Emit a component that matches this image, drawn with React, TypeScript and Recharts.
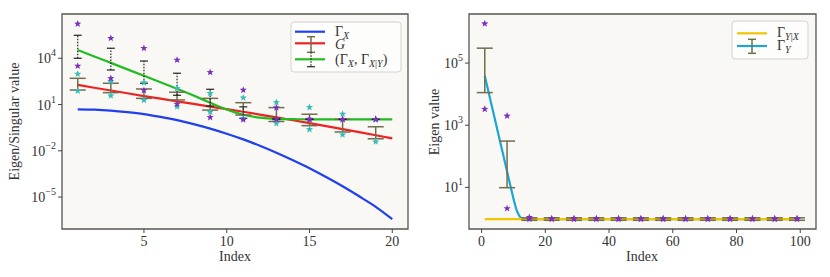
import React from 'react';
import { ComposedChart, Line, Scatter, XAxis, YAxis, ErrorBar, CartesianGrid, ReferenceArea } from 'recharts';

const FONT = "'Liberation Serif', 'Times New Roman', serif";
const INK = '#333';
const BG = '#f9f8f4';
const FRAME = '#555';

// values read as log10 exponents off the log axes

// left panel
const idxLeft = [1, 2, 3, 4, 5, 6, 7, 8, 9, 10, 11, 12, 13, 14, 15, 16, 17, 18, 19, 20];
const gammaXExp = [0.69, 0.67, 0.61, 0.51, 0.38, 0.2, -0.01, -0.27, -0.56, -0.89, -1.26, -1.67, -2.12, -2.61, -3.13, -3.7, -4.3, -4.95, -5.63, -6.43];
const gExp = [2.27, 2.09, 1.91, 1.73, 1.55, 1.38, 1.21, 1.04, 0.87, 0.7, 0.53, 0.35, 0.17, -0.02, -0.21, -0.4, -0.59, -0.79, -0.99, -1.19];
const pairExp = [4.54, 4.12, 3.7, 3.28, 2.86, 2.44, 2.02, 1.58, 1.12, 0.68, 0.34, 0.15, 0.07, 0.05, 0.04, 0.04, 0.04, 0.04, 0.04, 0.04];

const oddIdx = [1, 3, 5, 7, 9, 11, 13, 15, 17, 19];
const gLoExp = [1.94, 1.77, 1.4, 1.3, 0.64, 0.32, -0.1, -0.37, -0.78, -1.22];
const gHiExp = [2.7, 2.38, 2.01, 1.8, 1.4, 1.12, 0.8, 0.37, 0.04, -0.44];
const pairLoExp = [4.0, 3.24, 2.38, 1.6, 0.9, 0.1, 0.02, 0.03, 0.03, 0.03];
const pairHiExp = [5.49, 4.65, 3.82, 3.03, 1.99, 0.85, 0.1, 0.06, 0.05, 0.05];
const purpleHiL = [6.23, 5.3, 4.65, 3.89, 3.09, 1.94, 0.8, 0.06, 0.05, 0.05];
const purpleLoL = [3.5, 2.7, 1.92, 1.03, 0.17, 0.02, 0.04, 0.04, 0.04, 0.04];
const tealHiL = [2.98, 2.5, 2.42, 2.05, 1.73, 1.44, 1.14, 0.82, 0.39, 0.04];
const tealLoL = [1.88, 1.57, 1.29, 0.86, 0.52, 0.1, -0.22, -0.61, -0.96, -1.41];

const leftXTicks = [5, 10, 15, 20];
const leftYTicks = [1e-5, 1e-2, 1e1, 1e4];

// right panel
const yxIdx = [1, 100];
const yxExp = [-0.02, -0.02];
const gammaYIdx = [1, 2, 3, 4, 5, 6, 7, 8, 9, 10, 11, 12, 13, 14, 100];
const gammaYExp = [4.59, 4.15, 3.71, 3.27, 2.83, 2.39, 1.95, 1.51, 1.07, 0.64, 0.27, 0.06, -0.01, -0.02, -0.02];

const sampleIdx = [1, 8, 15, 22, 29, 36, 43, 50, 57, 64, 71, 78, 85, 92, 99];
const yLoExp = [4.05, 0.99, -0.06, -0.06, -0.06, -0.06, -0.06, -0.06, -0.06, -0.06, -0.06, -0.06, -0.06, -0.06, -0.06];
const yHiExp = [5.48, 2.49, 0.02, 0.02, 0.02, 0.02, 0.02, 0.02, 0.02, 0.02, 0.02, 0.02, 0.02, 0.02, 0.02];
const purpleHiR = [6.27, 3.3, 0.04, 0.0, 0.0, 0.0, 0.0, 0.0, 0.0, 0.0, 0.0, 0.0, 0.0, 0.0, 0.0];
const purpleLoR = [3.52, 0.32, -0.02, -0.02, -0.02, -0.02, -0.02, -0.02, -0.02, -0.02, -0.02, -0.02, -0.02, -0.02, -0.02];

const rightXTicks = [0, 20, 40, 60, 80, 100];
const rightYTicks = [1e1, 1e3, 1e5];

const pts = (xs: number[], e: number[]) => xs.map((x, i) => ({ x, y: 10 ** e[i] }));
const bars = (xs: number[], lo: number[], hi: number[]) =>
  xs.map((x, i) => ({ x, y: 10 ** lo[i], err: [0, 10 ** hi[i] - 10 ** lo[i]] }));
const caps = (xs: number[], lo: number[], hi: number[]) => [...pts(xs, lo), ...pts(xs, hi)];

const Star = (props: any) => {
  const { cx, cy, fill } = props;
  if (cx == null || cy == null) return <g />;
  const p: string[] = [];
  for (let k = 0; k < 10; k++) {
    const r = k % 2 === 0 ? 3.8 : 1.6;
    const a = -Math.PI / 2 + (k * Math.PI) / 5;
    p.push(`${cx + r * Math.cos(a)},${cy + r * Math.sin(a)}`);
  }
  return <polygon points={p.join(' ')} fill={fill} />;
};

const Cap = (props: any) => {
  const { cx, cy } = props;
  if (cx == null || cy == null) return <g />;
  return <line x1={cx - 4} x2={cx + 4} y1={cy} y2={cy} stroke="#222" strokeWidth={1.2} />;
};

const Nothing = () => <g />;

const LogTick = (props: any) => {
  const { x, y, payload } = props;
  const e = Math.round(Math.log10(payload.value));
  const s = e < 0 ? '\u2212' + Math.abs(e) : String(e);
  return (
    <text x={x} y={y} dy={5} textAnchor="end" fill={INK} fontFamily={FONT} fontSize={14}>
      10<tspan dy={-7} fontSize={10}>{s}</tspan>
    </text>
  );
};

const xLabel = (cx: number) => () => (
  <text x={cx} y={261} textAnchor="middle" fill={INK} fontFamily={FONT} fontSize={14}>Index</text>
);
const yLabel = (text: string, cy: number) => () => (
  <text x={19} y={cy} transform={`rotate(-90, 19, ${cy})`} textAnchor="middle" fill={INK} fontFamily={FONT} fontSize={14}>{text}</text>
);

function LeftLegend() {
  return (
    <svg width={112} height={52} style={{ position: 'absolute', left: 290, top: 21 }}>
      <rect x={1} y={1} width={110} height={50} rx={3} fill="#fdfdfc" stroke="#d2d2d2" />
      <line x1={5} x2={35} y1={10.7} y2={10.7} stroke="#1f3ff0" strokeWidth={2.2} />
      <line x1={5} x2={35} y1={22.3} y2={22.3} stroke="#ee2222" strokeWidth={2.2} />
      <line x1={5} x2={35} y1={38.3} y2={38.3} stroke="#22bb22" strokeWidth={2.2} />
      <line x1={21} x2={21} y1={15.7} y2={31.3} stroke="#6f6f4f" strokeWidth={1.5} />
      <line x1={17} x2={25} y1={15.7} y2={15.7} stroke="#6f6f4f" strokeWidth={1.5} />
      <line x1={17} x2={25} y1={31.3} y2={31.3} stroke="#6f6f4f" strokeWidth={1.5} />
      <line x1={21} x2={21} y1={31.3} y2={45.7} stroke="#222" strokeWidth={1.2} strokeDasharray="1.5 1.5" />
      <line x1={17} x2={25} y1={45.7} y2={45.7} stroke="#222" strokeWidth={1.2} />
      <g fill={INK} fontFamily={FONT} fontSize={14}>
        <text x={45} y={15}>
          Γ<tspan dy={3} fontSize={10} fontStyle="italic">X</tspan>
        </text>
        <text x={45} y={28} fontStyle="italic">G</text>
        <text x={45} y={43}>
          (Γ<tspan dy={3} fontSize={10} fontStyle="italic">X</tspan>
          <tspan dy={-3}>, Γ</tspan>
          <tspan dy={3} fontSize={10} fontStyle="italic">X</tspan>
          <tspan fontSize={10}>|</tspan>
          <tspan fontSize={10} fontStyle="italic">Y</tspan>
          <tspan dy={-3}>)</tspan>
        </text>
      </g>
    </svg>
  );
}

function RightLegend() {
  return (
    <svg width={78} height={40} style={{ position: 'absolute', left: 311, top: 20 }}>
      <rect x={1} y={1} width={76} height={38} rx={3} fill="#fdfdfc" stroke="#d2d2d2" />
      <line x1={6} x2={36} y1={13.3} y2={13.3} stroke="#f2c400" strokeWidth={2.2} />
      <line x1={6} x2={36} y1={26} y2={26} stroke="#1aa6d6" strokeWidth={2.2} />
      <line x1={21} x2={21} y1={19.3} y2={33.3} stroke="#6f6f4f" strokeWidth={1.5} />
      <line x1={17} x2={25} y1={19.3} y2={19.3} stroke="#6f6f4f" strokeWidth={1.5} />
      <line x1={17} x2={25} y1={33.3} y2={33.3} stroke="#6f6f4f" strokeWidth={1.5} />
      <g fill={INK} fontFamily={FONT} fontSize={14}>
        <text x={46} y={17}>
          Γ<tspan dy={3} fontSize={10} fontStyle="italic">Y</tspan>
          <tspan fontSize={10}>|</tspan>
          <tspan fontSize={10} fontStyle="italic">X</tspan>
        </text>
        <text x={46} y={30}>
          Γ<tspan dy={3} fontSize={10} fontStyle="italic">Y</tspan>
        </text>
      </g>
    </svg>
  );
}

const leftDomainY: [number, number] = [10 ** -7.07, 10 ** 6.87];
const leftDomainX: [number, number] = [0.05, 20.95];
const rightDomainY: [number, number] = [10 ** -0.34, 10 ** 6.58];
const rightDomainX: [number, number] = [-3.95, 104.95];

export default function App() {
  return (
    <div style={{ position: 'absolute', left: 0, top: 0, width: 830, height: 277, background: '#fff' }}>
      <div style={{ position: 'absolute', left: 0, top: 0 }}>
        <ComposedChart width={420} height={277} margin={{ top: 14, right: 12, bottom: 0, left: 0 }}>
          <CartesianGrid horizontal={false} vertical={false} fill={BG} />
          <XAxis type="number" dataKey="x" domain={leftDomainX} ticks={leftXTicks} allowDataOverflow
            axisLine={false} tickSize={4} tickMargin={3} height={48} tickLine={{ stroke: '#444' }}
            tick={{ fill: INK, fontFamily: FONT, fontSize: 14 }} label={xLabel(235)} />
          <YAxis type="number" dataKey="y" scale="log" domain={leftDomainY} ticks={leftYTicks} allowDataOverflow
            axisLine={false} tickSize={4} tickMargin={2} width={62} tickLine={{ stroke: '#444' }}
            tick={<LogTick />} label={yLabel('Eigen/Singular value', 121.5)} />
          <Line data={pts(idxLeft, gammaXExp)} dataKey="y" type="monotone" stroke="#1f3ff0" strokeWidth={2.2} dot={false} isAnimationActive={false} />
          <Line data={pts(idxLeft, gExp)} dataKey="y" type="linear" stroke="#ee2222" strokeWidth={2.2} dot={false} isAnimationActive={false} />
          <Line data={pts(idxLeft, pairExp)} dataKey="y" type="monotone" stroke="#22bb22" strokeWidth={2.2} dot={false} isAnimationActive={false} />
          <Scatter data={bars(oddIdx, gLoExp, gHiExp)} dataKey="y" shape={Nothing} isAnimationActive={false}>
            <ErrorBar dataKey="err" direction="y" width={8} stroke="#6f6f4f" strokeWidth={1.5} />
          </Scatter>
          <Scatter data={bars(oddIdx, pairLoExp, pairHiExp)} dataKey="y" shape={Nothing} isAnimationActive={false}>
            <ErrorBar dataKey="err" direction="y" width={0} stroke="#222" strokeWidth={1.2} strokeDasharray="1.5 1.5" />
          </Scatter>
          <Scatter data={caps(oddIdx, pairLoExp, pairHiExp)} dataKey="y" shape={Cap} isAnimationActive={false} />
          <Scatter data={pts(oddIdx, tealHiL)} dataKey="y" fill="#35bdb5" shape={Star} isAnimationActive={false} />
          <Scatter data={pts(oddIdx, tealLoL)} dataKey="y" fill="#35bdb5" shape={Star} isAnimationActive={false} />
          <Scatter data={pts(oddIdx, purpleHiL)} dataKey="y" fill="#7d2fc0" shape={Star} isAnimationActive={false} />
          <Scatter data={pts(oddIdx, purpleLoL)} dataKey="y" fill="#7d2fc0" shape={Star} isAnimationActive={false} />
          <ReferenceArea x1={leftDomainX[0]} x2={leftDomainX[1]} y1={leftDomainY[0]} y2={leftDomainY[1]}
            ifOverflow="visible" fill="none" fillOpacity={0} stroke={FRAME} strokeWidth={1.3} />
        </ComposedChart>
        <LeftLegend />
      </div>
      <div style={{ position: 'absolute', left: 420, top: 0 }}>
        <ComposedChart width={410} height={277} margin={{ top: 14, right: 14, bottom: 0, left: 0 }}>
          <CartesianGrid horizontal={false} vertical={false} fill={BG} />
          <XAxis type="number" dataKey="x" domain={rightDomainX} ticks={rightXTicks} allowDataOverflow
            axisLine={false} tickSize={4} tickMargin={3} height={48} tickLine={{ stroke: '#444' }}
            tick={{ fill: INK, fontFamily: FONT, fontSize: 14 }} label={xLabel(222)} />
          <YAxis type="number" dataKey="y" scale="log" domain={rightDomainY} ticks={rightYTicks} allowDataOverflow
            axisLine={false} tickSize={4} tickMargin={2} width={49} tickLine={{ stroke: '#444' }}
            tick={<LogTick />} label={yLabel('Eigen value', 122)} />
          <Line data={pts(gammaYIdx, gammaYExp)} dataKey="y" type="monotone" stroke="#1aa6d6" strokeWidth={2.2} dot={false} isAnimationActive={false} />
          <Line data={pts(yxIdx, yxExp)} dataKey="y" type="linear" stroke="#f2c400" strokeWidth={2.2} dot={false} isAnimationActive={false} />
          <Scatter data={bars(sampleIdx, yLoExp, yHiExp)} dataKey="y" shape={Nothing} isAnimationActive={false}>
            <ErrorBar dataKey="err" direction="y" width={8} stroke="#6f6f4f" strokeWidth={1.5} />
          </Scatter>
          <Scatter data={pts(sampleIdx, purpleHiR)} dataKey="y" fill="#7d2fc0" shape={Star} isAnimationActive={false} />
          <Scatter data={pts(sampleIdx, purpleLoR)} dataKey="y" fill="#7d2fc0" shape={Star} isAnimationActive={false} />
          <ReferenceArea x1={rightDomainX[0]} x2={rightDomainX[1]} y1={rightDomainY[0]} y2={rightDomainY[1]}
            ifOverflow="visible" fill="none" fillOpacity={0} stroke={FRAME} strokeWidth={1.3} />
        </ComposedChart>
        <RightLegend />
      </div>
    </div>
  );
}
